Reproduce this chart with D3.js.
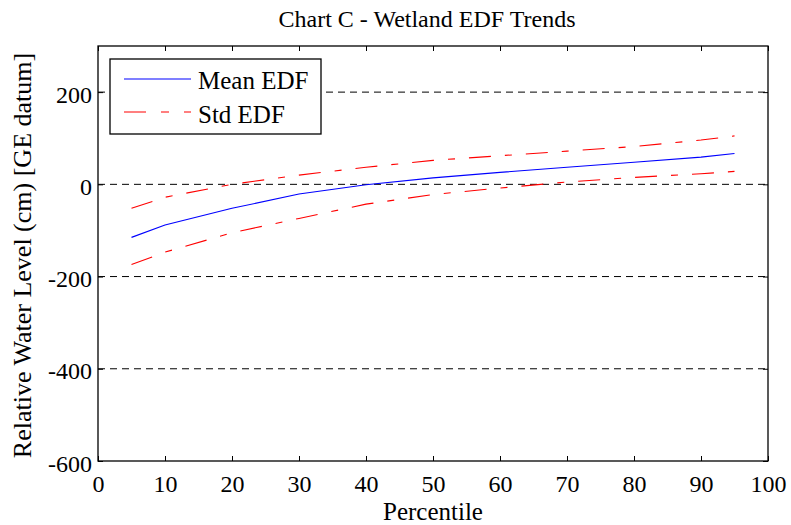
<!DOCTYPE html>
<html>
<head>
<meta charset="utf-8">
<script src="https://cdn.jsdelivr.net/npm/d3@7"></script>
<style>
  html, body { margin: 0; padding: 0; background: #fff; }
  text { font-family: "Liberation Serif", "Times New Roman", serif; fill: #000; }
</style>
</head>
<body>
<svg id="chart" width="791" height="525"></svg>
<script>
// Percentile positions and EDF water levels (cm)
const percentiles = [5, 10, 20, 30, 40, 50, 60, 70, 80, 90, 95];
const meanEDF     = [-115, -88, -52, -21, -1, 14, 26, 37, 48, 59, 67];
const stdUpper    = [-52, -28, 0, 20, 37, 52, 62, 72, 82, 96, 105];
const stdLower    = [-174, -147, -105, -74, -43, -22, -8, 5, 15, 23, 28];
const xTicks = [0, 10, 20, 30, 40, 50, 60, 70, 80, 90, 100];
const yTicks = [-600, -400, -200, 0, 200];

const W = 791, H = 525;
const margin = { left: 98, right: W - 768, top: 46, bottom: H - 461 };
const svg = d3.select("#chart");

const x = d3.scaleLinear().domain([0, 100]).range([margin.left, W - margin.right]);
const y = d3.scaleLinear().domain([-600, 300]).range([H - margin.bottom, margin.top]);
const fmt = d => String(d); // plain hyphen for negatives

// horizontal dashed grid
svg.append("g").selectAll("line").data(yTicks.filter(v => v > -600)).join("line")
  .attr("x1", x(0)).attr("x2", x(100))
  .attr("y1", d => y(d)).attr("y2", d => y(d))
  .attr("stroke", "#000").attr("stroke-width", 1).attr("stroke-dasharray", "7,5");

// axes with inward ticks on all four sides
const tickLen = 5;
const bottomAxis = svg.append("g").attr("transform", `translate(0,${y(-600)})`)
  .call(d3.axisBottom(x).tickValues(xTicks).tickSize(-tickLen).tickFormat(fmt));
const topAxis = svg.append("g").attr("transform", `translate(0,${y(300)})`)
  .call(d3.axisTop(x).tickValues(xTicks).tickSize(-tickLen).tickFormat(""));
const leftAxis = svg.append("g").attr("transform", `translate(${x(0)},0)`)
  .call(d3.axisLeft(y).tickValues(yTicks).tickSize(-tickLen).tickFormat(fmt));
const rightAxis = svg.append("g").attr("transform", `translate(${x(100)},0)`)
  .call(d3.axisRight(y).tickValues(yTicks).tickSize(-tickLen).tickFormat(""));

[bottomAxis, topAxis, leftAxis, rightAxis].forEach(g => {
  g.select(".domain").remove();
  g.selectAll("line").attr("stroke", "#000");
  g.selectAll("text").style("font-family", "'Liberation Serif', serif")
    .style("font-size", "24px").attr("fill", "#000");
});
bottomAxis.selectAll("text").attr("y", 31).attr("dy", null);
leftAxis.selectAll("text").attr("x", -6).attr("dy", "0.42em");

// frame
svg.append("rect").attr("x", x(0)).attr("y", y(300))
  .attr("width", x(100) - x(0)).attr("height", y(-600) - y(300))
  .attr("fill", "none").attr("stroke", "#000").attr("stroke-width", 1.3);

const line = vals => d3.line().x((d, i) => x(percentiles[i])).y(d => y(d))(vals);
const stdDash = "22,14,7,14";

svg.append("path").attr("d", line(stdUpper)).attr("fill", "none")
  .attr("stroke", "#ff0000").attr("stroke-width", 1.1).attr("stroke-dasharray", stdDash);
svg.append("path").attr("d", line(stdLower)).attr("fill", "none")
  .attr("stroke", "#ff0000").attr("stroke-width", 1.1).attr("stroke-dasharray", stdDash);
svg.append("path").attr("d", line(meanEDF)).attr("fill", "none")
  .attr("stroke", "#0000ff").attr("stroke-width", 1.1);

// legend
const lg = svg.append("g");
lg.append("rect").attr("x", 110).attr("y", 59).attr("width", 211).attr("height", 75)
  .attr("fill", "#fff").attr("stroke", "#000").attr("stroke-width", 1.3);
const legendItems = [
  { label: "Mean EDF", color: "#0000ff", dash: null, ly: 79, ty: 89 },
  { label: "Std EDF", color: "#ff0000", dash: "22,15,8,15", ly: 112, ty: 123 }
];
legendItems.forEach(it => {
  lg.append("line").attr("x1", 124).attr("x2", 191).attr("y1", it.ly).attr("y2", it.ly)
    .attr("stroke", it.color).attr("stroke-width", 1.1).attr("stroke-dasharray", it.dash);
  lg.append("text").attr("x", 198).attr("y", it.ty)
    .style("font-size", "25px").text(it.label);
});

// title and axis labels
svg.append("text").attr("x", 427).attr("y", 27).attr("text-anchor", "middle")
  .style("font-size", "24px").text("Chart C - Wetland EDF Trends");
svg.append("text").attr("x", (x(0) + x(100)) / 2).attr("y", 520).attr("text-anchor", "middle")
  .style("font-size", "25px").text("Percentile");
svg.append("text").attr("transform", `translate(31,${(y(300) + y(-600)) / 2 + 2}) rotate(-90)`)
  .attr("text-anchor", "middle").style("font-size", "26px")
  .text("Relative Water Level (cm) [GE datum]");
</script>
</body>
</html>
